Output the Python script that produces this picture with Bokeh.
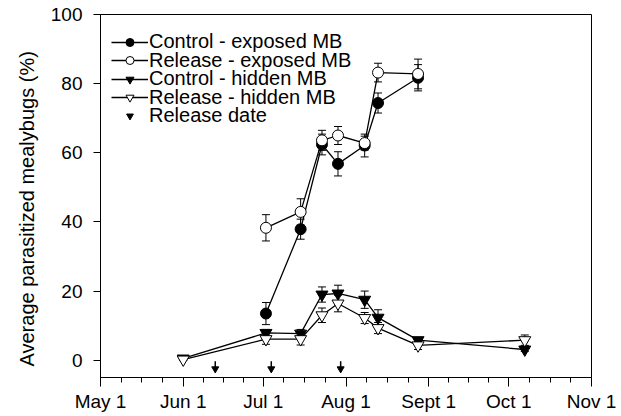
import pandas as pd
from bokeh.plotting import figure
from bokeh.models import (ColumnDataSource, Whisker, TeeHead, FixedTicker,
                          Legend, LegendItem, Range1d, Title)
from bokeh.embed import file_html
from bokeh.resources import INLINE

YEAR = "2010"
START = pd.Timestamp(f"{YEAR}-05-01")

# ---------------- data ----------------
exposed_dates = ["07-02", "07-15", "07-23", "07-29", "08-08", "08-13", "08-28"]
control_exposed = [13.5, 37.9, 62.4, 56.8, 62.1, 74.4, 81.7]
control_exposed_se = [3.2, 2.9, 3.0, 3.5, 3.3, 2.9, 3.8]
release_exposed = [38.3, 42.9, 63.6, 65.0, 62.8, 83.2, 82.8]
release_exposed_se = [3.8, 3.8, 2.9, 2.6, 2.0, 2.7, 4.3]

hidden_dates = ["06-01", "07-02", "07-15", "07-23", "07-29", "08-08", "08-13", "08-28", "10-07"]
control_hidden = [0.5, 7.9, 7.7, 19.0, 19.3, 17.5, 12.3, 5.8, 3.1]
control_hidden_se = [0.4, 1.0, 1.2, 2.2, 2.4, 2.5, 2.3, 0.8, 0.6]
release_hidden = [0.2, 6.1, 6.1, 13.0, 16.4, 12.2, 9.3, 4.3, 5.8]
release_hidden_se = [0.3, 1.5, 1.7, 2.1, 2.4, 1.6, 1.6, 1.2, 1.5]

release_dates = ["06-13", "07-04", "07-30"]

month_dates = ["05-01", "06-01", "07-01", "08-01", "09-01", "10-01", "11-01"]
month_labels = ["May 1", "Jun 1", "Jul 1", "Aug 1", "Sept 1", "Oct 1", "Nov 1"]
y_ticks = [0, 20, 40, 60, 80, 100]

series_names = ["Control - exposed MB", "Release - exposed MB",
                "Control - hidden MB", "Release - hidden MB"]
release_label = "Release date"
y_label = "Average parasitized mealybugs (%)"


def days(md_list):
    return [(pd.Timestamp(f"{YEAR}-{md}") - START).days for md in md_list]


FONT = "Liberation Sans"

p = figure(width=621, height=416, output_backend="svg", toolbar_location=None,
           x_range=Range1d(0, days(["11-01"])[0]), y_range=Range1d(-5, 100),
           min_border_left=100, min_border_right=30, min_border_top=14,
           min_border_bottom=39)
p.xgrid.visible = False
p.ygrid.visible = False
p.outline_line_color = "black"
p.outline_line_width = 1
p.background_fill_color = "white"
p.border_fill_color = "white"

# x axis
mt = days(month_dates)
minor = []
for a, b in zip(mt[:-1], mt[1:]):
    minor += [a + (b - a) * k / 4 for k in (1, 2, 3)]
p.xaxis.ticker = FixedTicker(ticks=mt, minor_ticks=minor)
p.xaxis.major_label_overrides = {t: l for t, l in zip(mt, month_labels)}
p.xaxis.major_tick_out = 9
p.xaxis.major_tick_in = 0
p.xaxis.minor_tick_out = 5
p.xaxis.minor_tick_in = 0
p.xaxis.major_label_standoff = 4

# y axis
p.yaxis.ticker = FixedTicker(ticks=y_ticks, minor_ticks=[])
p.yaxis.major_tick_out = 7
p.yaxis.major_tick_in = 0
p.yaxis.major_label_standoff = 11

for ax in (p.xaxis, p.yaxis):
    ax.axis_line_color = "black"
    ax.major_tick_line_color = "black"
    ax.minor_tick_line_color = "black"
    ax.major_label_text_font = FONT
    ax.major_label_text_font_size = "19px"
    ax.major_label_text_color = "black"
p.yaxis.minor_tick_line_color = None

# y-axis title as a side title (lets it start where the reference's does)
p.add_layout(Title(text=y_label, align="left", offset=11, standoff=19,
                   text_font=FONT, text_font_size="20px", text_font_style="normal",
                   text_color="black"), "left")

series = [
    (exposed_dates, control_exposed, control_exposed_se, "circle", "black"),
    (exposed_dates, release_exposed, release_exposed_se, "circle", "white"),
    (hidden_dates, control_hidden, control_hidden_se, "inverted_triangle", "black"),
    (hidden_dates, release_hidden, release_hidden_se, "inverted_triangle", "white"),
]

items = []
for name, (dts, vals, se, marker, fill) in zip(series_names, series):
    x = days(dts)
    src = ColumnDataSource(dict(x=x, y=vals,
                                upper=[v + e for v, e in zip(vals, se)],
                                lower=[v - e for v, e in zip(vals, se)]))
    w = Whisker(source=src, base="x", upper="upper", lower="lower",
                line_color="black", line_width=1, level="underlay",
                upper_head=TeeHead(size=8, line_color="black", line_width=1),
                lower_head=TeeHead(size=8, line_color="black", line_width=1))
    p.add_layout(w)
    lr = p.line("x", "y", source=src, line_color="black", line_width=1.3)
    size = 11 if marker == "circle" else 12
    sr = p.scatter("x", "y", source=src, marker=marker, size=size,
                   fill_color=fill, line_color="black", line_width=1)
    items.append((LegendItem(label=name, renderers=[lr, sr]), 20))

# release date arrows
rx = days(release_dates)
arrow_top, arrow_mid, arrow_head = -0.3, -2.2, -2.5
asrc = ColumnDataSource(dict(x=rx, y0=[arrow_top] * len(rx), y1=[arrow_mid] * len(rx),
                             yh=[arrow_head] * len(rx)))
p.segment(x0="x", y0="y0", x1="x", y1="y1", source=asrc, line_color="black", line_width=1.5)
ar = p.scatter("x", "yh", source=asrc, marker="inverted_triangle", size=7,
               fill_color="black", line_color="black")
items.append((LegendItem(label=release_label, renderers=[ar]), 17))

# one single-row legend per entry, stacked at the reference's row pitch
leg_common = dict(label_text_font=FONT, label_text_font_size="20px",
                  label_text_color="black", border_line_color=None,
                  background_fill_alpha=0, padding=0, margin=0,
                  label_standoff=1, glyph_width=37, label_height=20, spacing=0)
row_bottoms = [324, 305.5, 287, 268.5, 250]
for (item, gh), vy in zip(items, row_bottoms):
    p.add_layout(Legend(items=[item], location=(11, vy), glyph_height=gh, **leg_common))

open("out.html", "w").write(file_html(p, INLINE))
